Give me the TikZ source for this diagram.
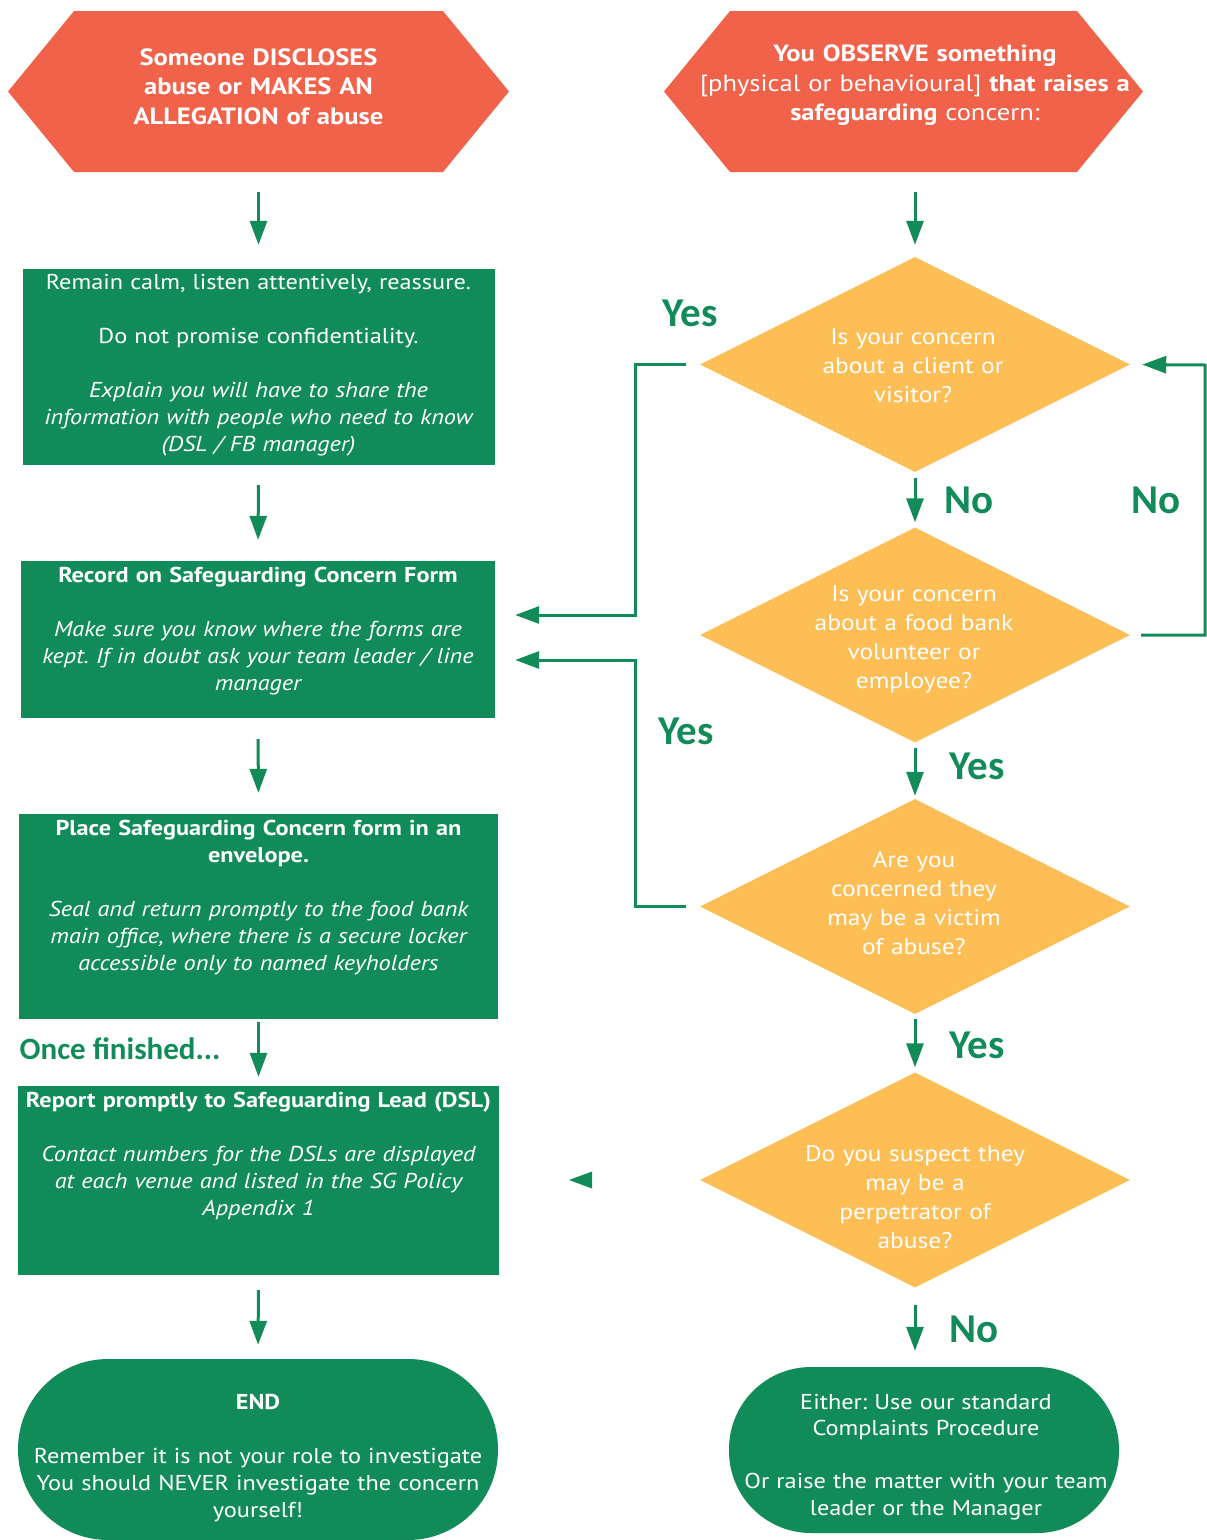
\documentclass[tikz,border=0pt]{standalone}
\usepackage{fontspec}
\setmainfont{PT Sans}[FakeStretch=1.13]
\newfontfamily\lblfont{Carlito}
\usetikzlibrary{shapes.geometric, arrows.meta}
\definecolor{coral}{RGB}{240,98,74}
\definecolor{fgreen}{RGB}{17,140,89}
\definecolor{amber}{RGB}{253,190,85}
\frenchspacing
\begin{document}
\begin{tikzpicture}[x=1pt, y=-1pt,
  hexa/.style={minimum width=#1, minimum height=161pt, inner sep=0pt,
    path picture={\fill[coral] (path picture bounding box.west)
      -- ([xshift=66pt]path picture bounding box.north west)
      -- ([xshift=-66pt]path picture bounding box.north east)
      -- (path picture bounding box.east)
      -- ([xshift=-66pt]path picture bounding box.south east)
      -- ([xshift=66pt]path picture bounding box.south west) -- cycle;}},
  gbox/.style={fill=fgreen, inner sep=0pt},
  dia/.style={diamond, fill=amber, inner sep=0pt, minimum width=430pt, minimum height=215pt},
  term/.style={fill=fgreen, rounded corners=#1, inner sep=0pt},
  txt/.style={text=white, align=center, inner sep=0pt, anchor=north, font=\frenchspacing\fontsize{21.5}{27}\selectfont},
  dtxt/.style={text=white, align=center, inner sep=0pt, anchor=north, text width=330pt, font=\fontsize{22.5}{29}\selectfont},
  htxt/.style={text=white, align=center, inner sep=0pt, anchor=north, text width=480pt, font=\fontsize{23.5}{29.5}\selectfont},
  lbl/.style={text=fgreen, font=\lblfont\bfseries\fontsize{41}{48}\selectfont, inner sep=0pt},
  conn/.style={draw=fgreen, line width=3pt, -{Triangle[length=24pt,width=17pt]}},
]
\useasboundingbox (0,0) rectangle (1207,1540);

% left column shapes
\node[hexa=501pt] (h1) at (258.5,91.5) {};
\node[gbox, minimum width=472pt, minimum height=196pt] (b1) at (258.5,367) {};
\node[gbox, minimum width=474pt, minimum height=157pt] (b2) at (258,639.5) {};
\node[gbox, minimum width=479pt, minimum height=205pt] (b3) at (258.5,916.5) {};
\node[gbox, minimum width=481pt, minimum height=189pt] (b4) at (258.5,1180.5) {};
\node[term=90pt, minimum width=480pt, minimum height=181pt] (e1) at (258,1449.5) {};

% right column shapes
\node[hexa=479pt] (h2) at (903.5,91.5) {};
\node[dia] (d1) at (915,364.5) {};
\node[dia] (d2) at (915,635) {};
\node[dia] (d3) at (915,906.5) {};
\node[dia] (d4) at (915,1180) {};
\node[term=82pt, minimum width=390pt, minimum height=166pt] (e2) at (924,1450) {};

% texts
\node[htxt] (ht1) at (258.5,48.5) {\bfseries Someone DISCLOSES\\ abuse or MAKES AN\\ ALLEGATION of abuse};
\node[htxt] (ht2) at (915,45) {\textbf{You OBSERVE something}\\ {[}physical or behavioural{]} \textbf{that raises a}\\ \textbf{safeguarding} concern:};

\node[txt, text width=470pt] (t1) at (258.5,274) {Remain calm, listen attentively, reassure.\\[27pt] Do not promise confidentiality.\\[27pt] \itshape Explain you will have to share the\\ information with people who need to know\\ (DSL / FB manager)};
\node[txt, text width=472pt] (t2) at (258,567) {\textbf{Record on Safeguarding Concern Form}\\[27pt] \itshape Make sure you know where the forms are\\ kept. If in doubt ask your team leader / line\\ manager};
\node[txt, text width=477pt] (t3) at (258.5,820) {\bfseries Place Safeguarding Concern form in an\\ envelope.\\[27pt] \mdseries\itshape Seal and return promptly to the food bank\\ main office, where there is a secure locker\\ accessible only to named keyholders};
\node[txt, text width=479pt] (t4) at (258.5,1092) {\textbf{Report promptly to Safeguarding Lead (DSL)}\\[27pt] \itshape Contact numbers for the DSLs are displayed\\ at each venue and listed in the SG Policy\\ Appendix 1};
\node[txt, text width=470pt] (te1) at (258,1394) {\textbf{END}\\[27pt] Remember it is not your role to investigate\\ You should NEVER investigate the concern\\ yourself!};
\node[txt, text width=385pt, font=\frenchspacing\fontsize{21.5}{26.5}\selectfont] (te2) at (926,1394) {Either: Use our standard\\ Complaints Procedure\\[26.5pt] Or raise the matter with your team\\ leader or the Manager};

\node[dtxt] (dt1) at (913,329) {Is your concern\\ about a client or\\ visitor?};
\node[dtxt] (dt2) at (914,586) {Is your concern\\ about a food bank\\ volunteer or\\ employee?};
\node[dtxt] (dt3) at (914,851) {Are you\\ concerned they\\ may be a victim\\ of abuse?};
\node[dtxt] (dt4) at (915,1145) {Do you suspect they\\ may be a\\ perpetrator of\\ abuse?};

% vertical connectors
\draw[conn, shorten <=20pt, shorten >=24pt] (h1.south) -- (b1.north);
\draw[conn, shorten <=20pt, shorten >=21pt] (b1.south) -- (b2.north);
\draw[conn, shorten <=21pt, shorten >=21pt] (b2.south) -- (b3.north);
\draw[conn, shorten <=3pt, shorten >=9pt] (b3.south) -- (b4.north);
\draw[conn, shorten <=15pt, shorten >=14pt] (b4.south) -- (e1.north);

\draw[conn, shorten <=20pt, shorten >=12pt] (h2.south -| d1.north) -- (d1.north);
\draw[conn, shorten <=6pt, shorten >=5pt] (d1.south) -- (d2.north);
\draw[conn, shorten <=5pt, shorten >=3pt] (d2.south) -- (d3.north);
\draw[conn, shorten <=5pt, shorten >=5pt] (d3.south) -- (d4.north);
\draw[conn, shorten <=17pt, shorten >=16pt] (d4.south) -- (d4.south |- e2.north);

% side connectors
\coordinate (j1) at (635,615);
\coordinate (j2) at (635,660);
\coordinate (j3) at (1205,365);
\draw[conn, shorten <=14pt, shorten >=20pt] (d1.west) -| (j1) -- (b2.east |- j1);
\draw[conn, shorten <=14pt, shorten >=20pt] (d3.west) -| (j2) -- (b2.east |- j2);
\draw[conn, shorten <=11pt, shorten >=12pt] (d2.east) -| (j3) -- (d1.east);

% lone arrowhead
\coordinate (lone) at (569,1180);
\fill[fgreen] (lone) -- ++(23,-8.5) -- ++(0,17) -- cycle;

% labels
\node[lbl] (yes1) at (690,313) {Yes};
\node[lbl] (no1) at (969,500) {No};
\node[lbl] (no2) at (1156,500) {No};
\node[lbl] (yes2) at (686,731) {Yes};
\node[lbl] (yes3) at (977,766) {Yes};
\node[lbl] (yes4) at (977,1045) {Yes};
\node[lbl] (no3) at (974,1329) {No};
\node[lbl, font=\lblfont\bfseries\fontsize{31}{36}\selectfont] (once) at (120,1049) {Once finished...};
\end{tikzpicture}
\end{document}
